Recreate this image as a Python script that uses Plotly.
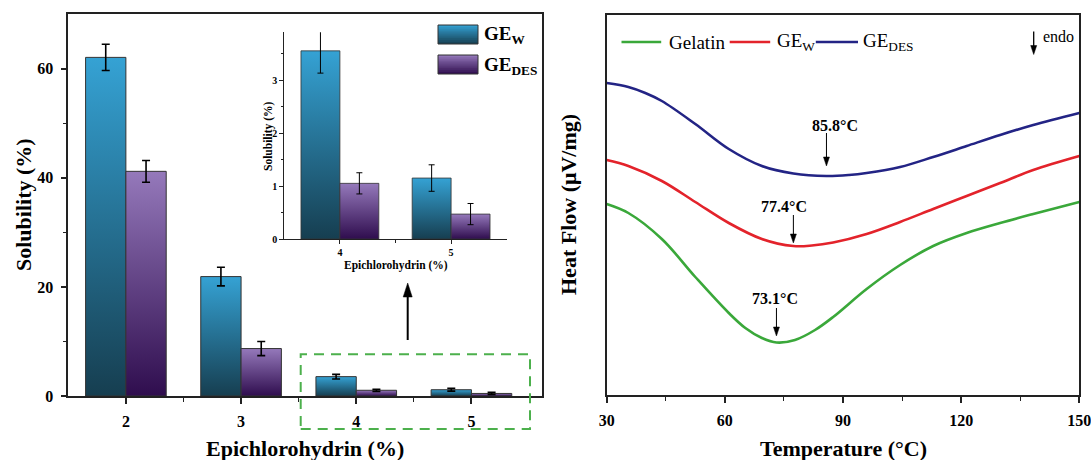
import plotly.graph_objects as go

W, H = 1091, 460
def px(x):
    return x / W
def py(y):
    return 1 - y / H

# ---------------- data ----------------
epichlorohydrin = [2, 3, 4, 5]
ge_w = [62.1, 21.9, 3.55, 1.15]
ge_w_err = [2.4, 1.7, 0.42, 0.25]
ge_des = [41.2, 8.7, 1.05, 0.47]
ge_des_err = [2.0, 1.3, 0.20, 0.20]
inset_epichlorohydrin = [4, 5]

t_gelatin = [30, 35.5, 44.0, 52.5, 61.0, 65.2, 69.4, 73.1, 77.8, 82.9, 87.5, 96.0, 104.5, 112.9, 121.4, 129.9, 138.3, 150]
hf_gelatin = [1.91, 1.82, 1.56, 1.18, 0.82, 0.67, 0.57, 0.525, 0.55, 0.65, 0.78, 1.06, 1.30, 1.49, 1.62, 1.72, 1.81, 1.93]

t_gew = [30, 35.5, 44.0, 52.5, 61.0, 69.4, 77.4, 82.1, 87.5, 96.0, 104.5, 112.9, 121.4, 129.9, 138.3, 150]
hf_gew = [2.35, 2.29, 2.14, 1.93, 1.72, 1.56, 1.49, 1.495, 1.525, 1.61, 1.73, 1.86, 1.99, 2.12, 2.25, 2.39]

t_gedes = [30, 35.5, 39.8, 44.0, 52.5, 61.0, 69.4, 77.4, 85.8, 91.5, 96.0, 104.5, 112.9, 121.4, 129.9, 138.3, 150]
hf_gedes = [3.12, 3.08, 3.02, 2.94, 2.71, 2.46, 2.29, 2.215, 2.19, 2.20, 2.22, 2.28, 2.38, 2.49, 2.60, 2.70, 2.82]

peak_temps = [85.8, 77.4, 73.1]
peak_labels = ["85.8°C", "77.4°C", "73.1°C"]
peak_tip = [2.29, 1.52, 0.59]
label_pos_t = [88.0, 74.9, 72.7]
label_pos_hf = [2.70, 1.89, 0.97]
arrow_len = [33, 28, 28]

# ---------------- styles ----------------
W_TOP, W_BOT = "#35a2d4", "#163e50"
D_TOP, D_BOT = "#9579bb", "#2f0d4e"
BAR_W = 0.35
FONT = "Liberation Serif"
AX = "#222222"

fig = go.Figure()

def gradient_bar(x0, x1, v, top, bot, xa, ya, lw=1):
    fig.add_trace(go.Scatter(
        x=[x0, x0, x1, x1, x0], y=[0, v, v, 0, 0], mode="lines",
        fill="toself",
        fillgradient=dict(type="vertical", colorscale=[[0, bot], [1, top]]),
        line=dict(color="#333333", width=lw),
        hoverinfo="skip", showlegend=False, xaxis=xa, yaxis=ya))

def err_trace(xs, ys, es, xa, ya, th, wd):
    fig.add_trace(go.Scatter(
        x=xs, y=ys, mode="markers", marker=dict(color="rgba(0,0,0,0)", size=1),
        error_y=dict(type="data", array=es, color="black", thickness=th, width=wd),
        hoverinfo="skip", showlegend=False, xaxis=xa, yaxis=ya))

# main bars
for c, vw, vd in zip(epichlorohydrin, ge_w, ge_des):
    gradient_bar(c - BAR_W, c, vw, W_TOP, W_BOT, "x", "y")
    gradient_bar(c, c + BAR_W, vd, D_TOP, D_BOT, "x", "y")
err_trace([c - BAR_W / 2 for c in epichlorohydrin], ge_w, ge_w_err, "x", "y", 1.6, 4)
err_trace([c + BAR_W / 2 for c in epichlorohydrin], ge_des, ge_des_err, "x", "y", 1.6, 4)

# inset bars
for c, vw, vd in zip(inset_epichlorohydrin, ge_w[2:], ge_des[2:]):
    gradient_bar(c - BAR_W, c, vw, W_TOP, W_BOT, "x3", "y3", 0.8)
    gradient_bar(c, c + BAR_W, vd, D_TOP, D_BOT, "x3", "y3", 0.8)
err_trace([c - BAR_W / 2 for c in inset_epichlorohydrin], ge_w[2:], ge_w_err[2:], "x3", "y3", 1, 3)
err_trace([c + BAR_W / 2 for c in inset_epichlorohydrin], ge_des[2:], ge_des_err[2:], "x3", "y3", 1, 3)

# DSC curves
for t, hf, col in [(t_gelatin, hf_gelatin, "#3aa83a"), (t_gew, hf_gew, "#e3232b"), (t_gedes, hf_gedes, "#232485")]:
    fig.add_trace(go.Scatter(x=t, y=hf, mode="lines", line=dict(color=col, width=2.6, shape="spline", smoothing=1.0),
                             hoverinfo="skip", showlegend=False, xaxis="x2", yaxis="y2"))

tickfont = dict(family=FONT, size=16, color="black", weight="bold")
small_tickfont = dict(family=FONT, size=10, color="black", weight="bold")

def main_axis(**kw):
    d = dict(showline=True, mirror=True, linecolor=AX, linewidth=1.6, ticks="outside", ticklen=6,
             tickwidth=1.5, tickcolor=AX, showgrid=False, zeroline=False, tickfont=tickfont,
             ticklabelstandoff=4, automargin=False, ticklabeloverflow="allow")
    d.update(kw)
    return d

fig.update_layout(
    width=W, height=H, margin=dict(l=0, r=0, t=0, b=0, pad=0), autosize=False,
    paper_bgcolor="white", plot_bgcolor="rgba(0,0,0,0)",
    showlegend=False,
    xaxis=main_axis(domain=[px(68.3), px(541.7)], range=[1.5, 5.61], tickvals=epichlorohydrin,
                    minor=dict(tickvals=[2.5, 3.5, 4.5], ticks="outside", ticklen=4, tickwidth=1.2, tickcolor=AX),
                    anchor="y"),
    yaxis=main_axis(domain=[py(396), py(14.3)], range=[0, 70], tickvals=[0, 20, 40, 60],
                    minor=dict(tickvals=[10, 30, 50], ticks="outside", ticklen=4, tickwidth=1.2, tickcolor=AX),
                    anchor="x"),
    xaxis2=main_axis(domain=[px(606.7), px(1079.3)], range=[30, 150], tickvals=[30, 60, 90, 120, 150],
                     minor=dict(tickvals=[45, 75, 105, 135], ticks="outside", ticklen=4, tickwidth=1.2, tickcolor=AX),
                     anchor="y2"),
    yaxis2=main_axis(domain=[py(395), py(15)], range=[0, 3.80], ticks="", showticklabels=False, anchor="x2"),
    xaxis3=dict(domain=[px(284.3), px(506.7)], range=[3.5, 5.5], tickvals=inset_epichlorohydrin,
                showline=True, mirror=False, linecolor=AX, linewidth=1, ticks="outside", ticklen=4,
                tickwidth=1, tickcolor=AX, showgrid=False, zeroline=False, tickfont=small_tickfont,
                automargin=False,
                minor=dict(tickvals=[4.5], ticks="outside", ticklen=3, tickcolor=AX), anchor="y3"),
    yaxis3=dict(domain=[py(239), py(32.3)], range=[0, 3.9], tickvals=[0, 1, 2, 3],
                showline=True, mirror=False, linecolor=AX, linewidth=1, ticks="outside", ticklen=4,
                tickwidth=1, tickcolor=AX, showgrid=False, zeroline=False, tickfont=small_tickfont,
                automargin=False,
                minor=dict(tickvals=[0.5, 1.5, 2.5, 3.5], ticks="outside", ticklen=2.5, tickcolor=AX), anchor="x3"),
)

ann = []
def text(x, y, s, size, angle=0, bold=True, xanchor="center", yanchor="middle"):
    ann.append(dict(xref="paper", yref="paper", x=px(x), y=py(y), text=("<b>%s</b>" % s) if bold else s,
                    showarrow=False, textangle=angle, xanchor=xanchor, yanchor=yanchor,
                    font=dict(family=FONT, size=size, color="black")))

# axis titles
text(23, 205, "Solubility (%)", 22, angle=-90)
text(305, 448, "Epichlorohydrin (%)", 22)
text(843, 448, "Temperature (°C)", 22)
text(568, 205, "Heat Flow (μV/mg)", 22, angle=-90)
text(268, 136, "Solubility (%)", 11.5, angle=-90)
text(395.5, 265, "Epichlorohydrin (%)", 11.5)

# left legend
text(482, 35, "GE<sub>W</sub>", 19, xanchor="left")
text(482, 66, "GE<sub>DES</sub>", 19, xanchor="left")

# right legend
text(666.5, 42, "Gelatin", 19, bold=False, xanchor="left")
text(775.4, 42, "GE<sub>W</sub>", 19, bold=False, xanchor="left")
text(860.5, 42, "GE<sub>DES</sub>", 19, bold=False, xanchor="left")
text(1040.5, 37, "endo", 16, bold=False, xanchor="left")

# peak labels
for lab, lt, lh in zip(peak_labels, label_pos_t, label_pos_hf):
    ann.append(dict(xref="x2", yref="y2", x=lt, y=lh, text="<b>%s</b>" % lab, showarrow=False,
                    font=dict(family=FONT, size=16, color="black")))

fig.update_layout(annotations=ann)

shapes = []

def arrow(xref, yref, xa, ya, length, head_w, head_l, lw, up=False):
    """Arrow whose tip is anchored at (xa, ya); drawn in pixel offsets (positive = upward)."""
    s = -1 if up else 1
    common = dict(xref=xref, yref=yref, xsizemode="pixel", ysizemode="pixel", xanchor=xa, yanchor=ya)
    shapes.append(dict(type="line", x0=0, x1=0, y0=s * (head_l - 1), y1=s * length,
                       line=dict(color="black", width=lw), **common))
    shapes.append(dict(type="path",
                       path="M0,0 L%.1f,%.1f L%.1f,%.1f Z" % (-head_w / 2, s * head_l, head_w / 2, s * head_l),
                       fillcolor="black", line=dict(color="black", width=0.5), **common))

# peak arrows
for t, tip, al in zip(peak_temps, peak_tip, arrow_len):
    arrow("x2", "y2", t, tip, al, 6, 9, 1)
# endo arrow
arrow("paper", "paper", px(1033.7), py(54.5), 23, 6, 9, 1.3)
# big zoom-indicator arrow
arrow("paper", "paper", px(407.7), py(283), 57, 9, 14, 2, up=True)

# green dashed zoom box
shapes.append(dict(type="rect", xref="paper", yref="paper", x0=px(300.7), x1=px(530), y0=py(429), y1=py(354.3),
                   line=dict(color="#4cb04c", width=2, dash="10px,7px"), fillcolor="rgba(0,0,0,0)"))

# gradient legend swatches
def hex2rgb(h):
    h = h.lstrip("#")
    return [int(h[i:i + 2], 16) for i in (0, 2, 4)]

def swatch(x0, x1, ytop, ybot, top, bot, n=10):
    a, b = hex2rgb(top), hex2rgb(bot)
    hgt = (ybot - ytop) / n
    for i in range(n):
        f = (i + 0.5) / n
        col = "rgb(%d,%d,%d)" % tuple(round(a[k] + (b[k] - a[k]) * f) for k in range(3))
        y_bot = min(ybot, ytop + (i + 1) * hgt + 1.2)
        shapes.append(dict(type="rect", xref="paper", yref="paper", x0=px(x0), x1=px(x1),
                           y0=py(y_bot), y1=py(ytop + i * hgt), line=dict(width=0), fillcolor=col,
                           layer="above"))
    shapes.append(dict(type="rect", xref="paper", yref="paper", x0=px(x0), x1=px(x1), y0=py(ybot), y1=py(ytop),
                       line=dict(color="#333333", width=1), fillcolor="rgba(0,0,0,0)"))

swatch(438, 478, 25, 44, W_TOP, W_BOT)
swatch(438, 478, 55, 74, D_TOP, D_BOT)

# right legend lines
for x0, x1, col in [(621.5, 661.2, "#3aa83a"), (729.7, 770.2, "#e3232b"), (815.8, 858, "#232485")]:
    shapes.append(dict(type="line", xref="paper", yref="paper", x0=px(x0), x1=px(x1), y0=py(42), y1=py(42),
                       line=dict(color=col, width=2.6)))

fig.update_layout(shapes=shapes)
fig.write_html("out.html", config={"displayModeBar": False},
               post_script="document.body.style.margin='0';document.body.style.overflow='hidden';")
